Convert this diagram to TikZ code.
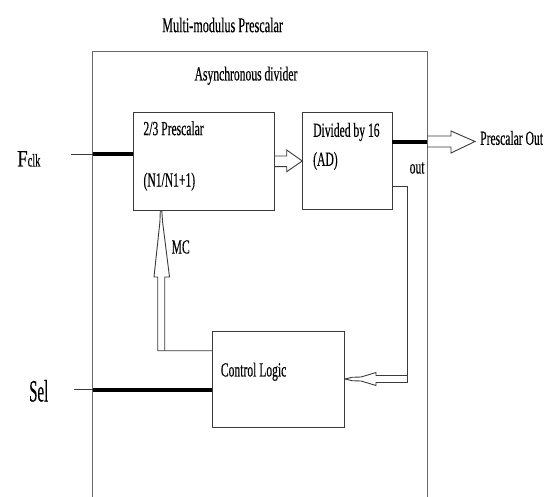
\documentclass[tikz,border=0pt]{standalone}
\usepackage{fontspec}
\setmainfont{Liberation Serif}[FakeStretch=0.58,FakeBold=0.3]
\newfontfamily\fcond{Liberation Serif}[FakeStretch=0.8,FakeBold=0.3]
\newfontfamily\scond{Liberation Serif}[FakeStretch=0.48,FakeBold=0.3]
\usetikzlibrary{calc}
\definecolor{boxline}{HTML}{3A3A3A}
\definecolor{outerline}{HTML}{6A6A6A}
\begin{document}
\begin{tikzpicture}[x=1pt,y=-1pt,
  blk/.style={draw=boxline, line width=0.9pt, rectangle, inner sep=0pt},
  lbl/.style={inner sep=0pt, anchor=west, font=\fontsize{20}{22}\selectfont},
  thin/.style={draw=boxline, line width=0.9pt},
  thick/.style={draw=black, line width=4pt},
  hollow/.style={draw=boxline, line width=0.9pt, line join=miter}
]
\useasboundingbox (0,0) rectangle (554,497);
\fill[white] (0,0) rectangle (554,497);

% outer box
\coordinate (oBL) at (92.6,497);
\coordinate (oTL) at (92.6,51.7);
\coordinate (oTR) at (427.2,51.7);
\coordinate (oBR) at (427.2,497);
\draw[draw=outerline, line width=0.9pt] (oBL) -- (oTL) -- (oTR) -- (oBR);

% titles
\node[inner sep=0pt, font=\fontsize{21}{22}\selectfont] (title) at (222.6,25) {Multi-modulus Prescalar};
\node[inner sep=0pt, font=\fontsize{20}{22}\selectfont] (async) at (246,75.7) {Asynchronous divider};

% blocks
\node[blk, minimum width=140.5pt, minimum height=98.2pt] (pre) at (203.75,161.4) {};
\node[blk, minimum width=89.3pt, minimum height=96.5pt] (div) at (347.35,160.75) {};
\node[blk, minimum width=132pt, minimum height=96.7pt] (ctl) at (278.7,379.35) {};

\node[lbl] (preT1) at (143.3,128.3) {2/3 Prescalar};
\node[lbl] (preT2) at (143.3,181.7) {(N1/N1+1)};
\node[lbl] (divT1) at (313,132) {Divided by 16};
\node[lbl] (divT2) at (313,161) {(AD)};
\node[lbl] (ctlT) at (220.7,371.7) {Control Logic};
\node[lbl] (outT) at (409.5,168) {out};
\node[lbl] (psoT) at (480,138) {Prescalar Out};
\node[lbl] (mcT) at (171.5,247) {MC};

% Fclk input
\node[inner sep=0pt, anchor=base west] (fclk) at (17,166.5)
  {\fontsize{23.5}{24}\fcond F\fontsize{18}{18}\selectfont\rmfamily clk};
\coordinate (fA) at (70.7,154.3);
\draw[thin] (fA) -- (fA -| oTL);
\draw[thick] (fA -| oTL) -- (fA -| pre.west);

% Sel input
\node[inner sep=0pt, anchor=base west] (sel) at (29,401.5)
  {\fontsize{31}{32}\scond Sel};
\coordinate (sA) at (73.5,389.7);
\draw[thin] (sA) -- (sA -| oTL);
\draw[thick] (sA -| oTL) -- (sA -| ctl.west);

% hollow arrow pre -> div
\draw[hollow] (pre.east |- 0,156) -- (286.7,156) -- (286.7,150) -- (div.west |- 0,161)
  -- (286.7,171.7) -- (286.7,166.7) -- (pre.east |- 0,166.7);

% div out thick line and hollow arrow to Prescalar Out
\coordinate (oA) at (427.2,141.7);
\draw[thick] (div.east |- oA) -- (oA);
\draw[hollow] (427.2,136) -- (451,136) -- (451,131) -- (475,141.5)
  -- (451,153) -- (451,147) -- (427.2,147);

% feedback from div to control logic
\coordinate (fb1) at (392,186);
\coordinate (fb2) at (407,186);
\draw[thin] (div.east |- fb1) -- (fb2) -- (407,382.5);
\draw[hollow] (407,375.5) -- (376,375.5) -- (376,372.5) -- (361,377) -- (352,377.3)
  -- (ctl.east |- 0,379);
\draw[hollow] (407,382.5) -- (376,382.5) -- (376,385.5) -- (361,381) -- (352,380.7)
  -- (ctl.east |- 0,379);

% MC arrow from control logic to prescalar
\coordinate (mc0) at (157.7,350.7);
\draw[hollow] (ctl.west |- mc0) -- (mc0) -- (157.7,277) -- (154,277) -- (159.9,222)
  -- (160.3,211) -- (pre.south -| 161.8,0);
\draw[hollow] (pre.south -| 161.8,0) -- (162.6,222) -- (169.5,277) -- (164.7,277) -- (164.7,350.7);
\end{tikzpicture}
\end{document}
